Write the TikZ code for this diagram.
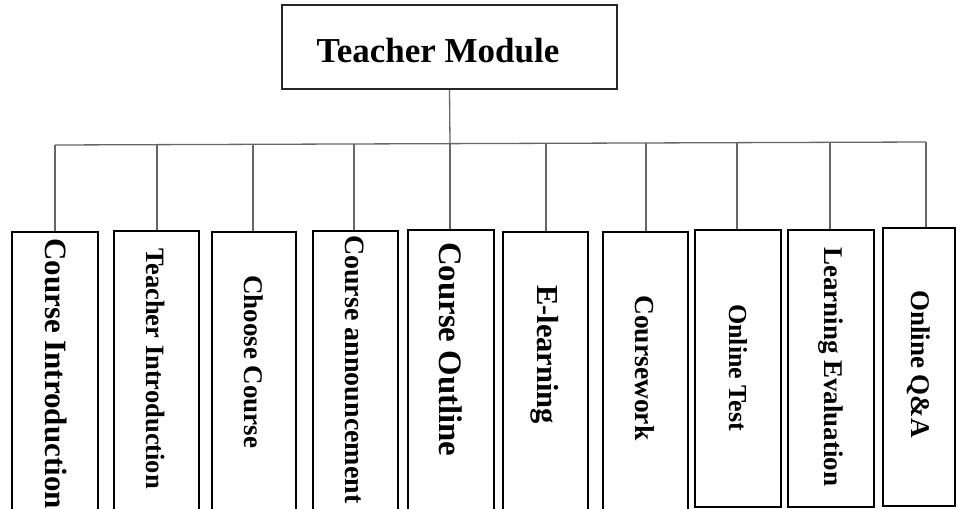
\documentclass[tikz,border=0pt]{standalone}
\usepackage{fontspec}
\setmainfont{Liberation Serif}
\begin{document}
\begin{tikzpicture}[x=1pt,y=-1pt,
  boxline/.style={draw=black,line width=2pt},
  conn/.style={draw=black!60,line width=1.3pt},
  vlabel/.style={rotate=-90,anchor=west,inner sep=0pt,font=\bfseries}]
\useasboundingbox (0,0) rectangle (957,508);
\begin{scope}
\clip (0,0) rectangle (957,508);
% top module
\node[boxline,draw=black!85,minimum width=335pt,minimum height=84pt,inner sep=0pt] (tm) at (449.5,47) {};
\node[anchor=base,inner sep=0pt,font=\fontsize{35}{40}\selectfont\bfseries] (tmt) at (438,63) {Teacher Module};
% sub boxes
\foreach \n/\xa/\xb/\yt/\yb in {1/11/97/231/520,2/113/198/230/520,3/211/295/231/520,4/312/397/230/520,5/407/493/229/520,6/502/587/231/520,7/602/687/231/520,8/694/780/229/506,9/787/873/229/506,10/882/954/227/505}{
  \node[boxline,minimum width={\xb-\xa},minimum height={\yb-\yt},inner sep=0pt,anchor=north west] (b\n) at (\xa,\yt) {};
}
% labels
\node[vlabel,font=\fontsize{31}{36}\selectfont\bfseries] (t1) at (56,238) {Course Introduction};
\node[vlabel,font=\fontsize{26.5}{30}\selectfont\bfseries] (t2) at (156,248) {Teacher Introduction};
\node[vlabel,font=\fontsize{27}{30}\selectfont\bfseries] (t3) at (253.5,275) {Choose Course};
\node[vlabel,font=\fontsize{28}{30}\selectfont\bfseries] (t4) at (355,235) {Course announcement};
\node[vlabel,font=\fontsize{32.8}{36}\selectfont\bfseries] (t5) at (451,242) {Course Outline};
\node[vlabel,font=\fontsize{30.5}{34}\selectfont\bfseries] (t6) at (545,285) {E-learning};
\node[vlabel,font=\fontsize{27.5}{30}\selectfont\bfseries] (t7) at (645,295) {Coursework};
\node[vlabel,font=\fontsize{26}{30}\selectfont\bfseries] (t8) at (738,304) {Online Test};
\node[vlabel,font=\fontsize{27}{30}\selectfont\bfseries] (t9) at (830.5,247) {Learning Evaluation};
\node[vlabel,font=\fontsize{27}{30}\selectfont\bfseries] (t10) at (918.5,290) {Online Q\&A};
% bus
\coordinate (trunk) at (450,144);
\foreach \n/\x/\y in {1/55/145,2/157/145,3/253/145,4/354/144,5/450/144,6/546/143.5,7/646/143,8/737/143,9/830/142,10/926/142}{
  \coordinate (j\n) at (\x,\y);
}
\draw[conn] (j1) -- (j10);
\draw[conn] (tm.south) -- (trunk);
\foreach \n/\x in {1/55,2/157,3/253,4/354,5/450,6/546,7/646,8/737,9/830,10/926}{
  \draw[conn] (j\n) -- (j\n |- b\n.north);
}
\end{scope}
\end{tikzpicture}
\end{document}
